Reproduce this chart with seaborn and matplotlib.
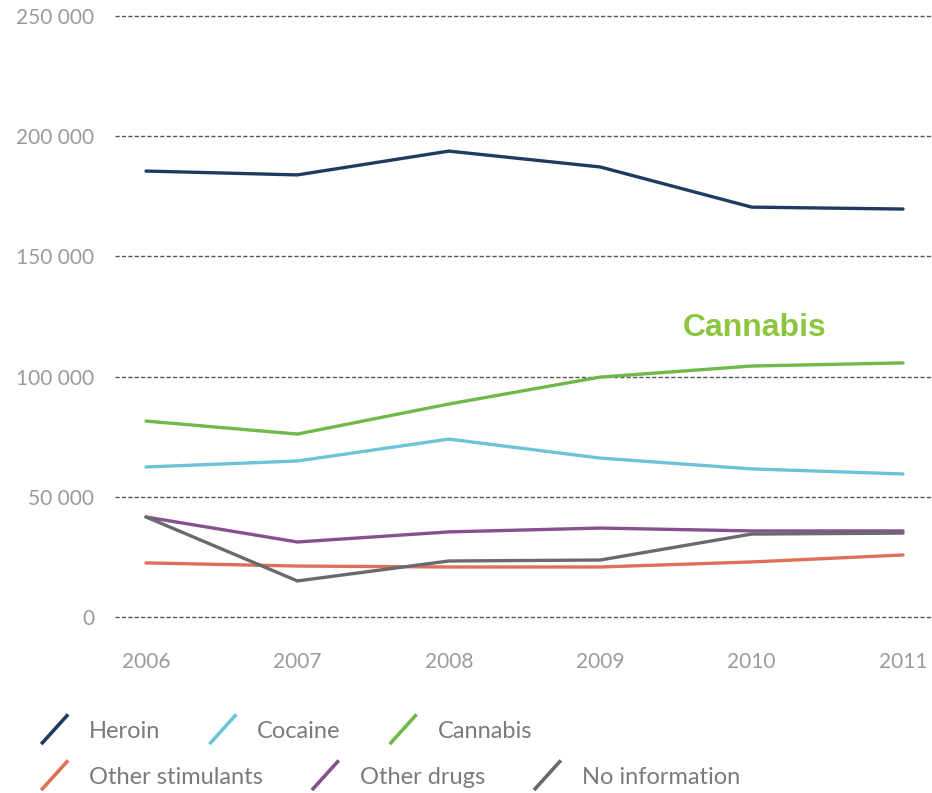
import pandas as pd
import numpy as np
import matplotlib
matplotlib.use("Agg")
import matplotlib.pyplot as plt
from matplotlib.lines import Line2D
from matplotlib.legend_handler import HandlerBase
from matplotlib.ticker import FuncFormatter
import seaborn as sns

# ---- data ----
years = [2006, 2007, 2008, 2009, 2010, 2011]
heroin = [185500, 183900, 193800, 187200, 170500, 169700]
cocaine = [62400, 64900, 74000, 66100, 61600, 59500]
cannabis = [81500, 76100, 88600, 99800, 104400, 105700]
other_stimulants = [22500, 21200, 20800, 20800, 22900, 25800]
other_drugs = [41600, 31200, 35400, 37000, 35800, 35800]
no_information = [41600, 15000, 23300, 23700, 34500, 34900]

series_names = ["Heroin", "Cocaine", "Cannabis",
                "Other stimulants", "Other drugs", "No information"]
series_values = [heroin, cocaine, cannabis, other_stimulants, other_drugs, no_information]
colors = ["#1f3b61", "#6cc3d8", "#6fb84a", "#e06f58", "#87508e", "#676b70"]
y_ticks = [0, 50000, 100000, 150000, 200000, 250000]

rows = []
for name, vals in zip(series_names, series_values):
    for yr, v in zip(years, vals):
        rows.append({"year": yr, "value": v, "drug": name})
df = pd.DataFrame(rows)
palette = dict(zip(series_names, colors))

sns.set_style("white")
plt.rcParams['font.family'] = ['Lato', 'DejaVu Sans']
text_grey = "#9a9a9a"

fig = plt.figure(figsize=(9.32, 7.93), dpi=100)
ax = fig.add_axes([115 / 932, (793 - 619) / 793, 1 - 115 / 932, (619 - 14) / 793])

sns.lineplot(data=df, x="year", y="value", hue="drug", palette=palette,
             hue_order=series_names, linewidth=2.4, legend=False, ax=ax, zorder=3)

# axes range so gridlines sit where the reference has them
ax.set_xlim(2006 - 31 / 151.4, 2011 + 29 / 151.4)
ax.set_ylim(-2 / 120.2 * 50000, 250000 + 2 / 120.2 * 50000)

ax.set_yticks(y_ticks)
ax.yaxis.set_major_formatter(FuncFormatter(lambda v, p: f"{int(v):,}".replace(",", " ")))
ax.set_xticks(years)
for yv in y_ticks:
    ax.axhline(yv, color="#555555", linewidth=1.0, linestyle=(0, (3, 1.6)), zorder=1)

for s in ax.spines.values():
    s.set_visible(False)
ax.tick_params(axis="both", length=0, colors=text_grey, labelsize=15)
ax.tick_params(axis="y", pad=15)
ax.tick_params(axis="x", pad=24)
ax.set_xlabel("")
ax.set_ylabel("")

ax.text(2010.02, 120200, "Cannabis", color="#8cc63f", fontsize=23, fontweight="bold",
        family=["Liberation Sans", "DejaVu Sans"], ha="center", va="center")


# slanted legend icons
class SlashHandler(HandlerBase):
    def create_artists(self, legend, orig_handle, xdescent, ydescent,
                       width, height, fontsize, trans):
        x0 = -xdescent
        y0 = -ydescent
        ln = Line2D([x0 + 0.25 * width, x0 + 0.85 * width],
                    [y0 - 0.4 * height, y0 + 1.4 * height],
                    color=orig_handle.get_color(), linewidth=2.6,
                    solid_capstyle="butt", transform=trans)
        return [ln]


handles = [Line2D([], [], color=c) for c in colors]
leg_kw = dict(frameon=False, loc="center left", handler_map={Line2D: SlashHandler()},
              handlelength=1.9, handletextpad=0.6, columnspacing=1.6, borderpad=0,
              borderaxespad=0, prop={"size": 17}, labelcolor="#7a7a7a")
leg1 = fig.legend(handles[:3], series_names[:3], ncol=3,
                  bbox_to_anchor=(30 / 932, (793 - 731) / 793), **leg_kw)
leg2 = fig.legend(handles[3:], series_names[3:], ncol=3,
                  bbox_to_anchor=(30 / 932, (793 - 777) / 793), **leg_kw)

fig.savefig("out.png", dpi=100)
